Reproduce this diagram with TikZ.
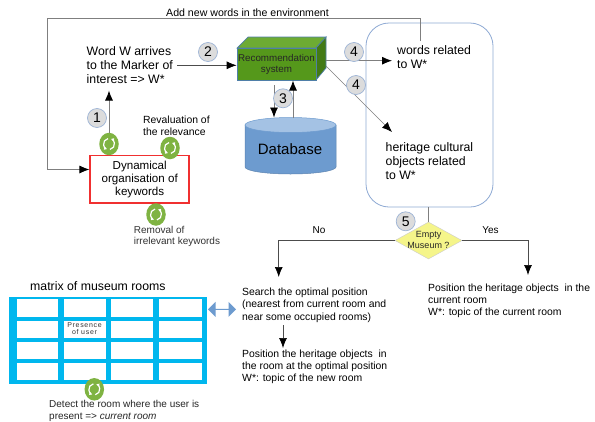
\documentclass[tikz,border=0pt]{standalone}
\usepackage{fontspec}
\setmainfont{Liberation Sans}
\usetikzlibrary{arrows.meta,shapes.geometric,shapes.arrows}
\definecolor{gline}{HTML}{7F7F7F}
\definecolor{cycg}{HTML}{7FB342}
\definecolor{numf}{HTML}{DCDCDC}
\definecolor{numb}{HTML}{9DB4D6}
\definecolor{boxb}{HTML}{8FAAD4}
\definecolor{roomc}{HTML}{00B7EE}
\definecolor{recf}{HTML}{55981B}
\definecolor{rect}{HTML}{6DAB33}
\definecolor{recs}{HTML}{437A15}
\definecolor{recl}{HTML}{4F7FA8}
\definecolor{dbf}{HTML}{6D9BCF}
\definecolor{dbt}{HTML}{A4C2E4}
\definecolor{decf}{HTML}{F5F58A}
\definecolor{redb}{HTML}{F03030}
\tikzset{
 big/.style={align=left,anchor=north west,inner sep=0pt,font=\fontsize{12.3}{14}\selectfont},
 mid/.style={align=left,anchor=north west,inner sep=0pt,font=\fontsize{10.4}{12.2}\selectfont},
 num/.style={circle,draw=numb,fill=numf,line width=0.7pt,minimum size=19pt,inner sep=0pt,font=\fontsize{14}{14}\selectfont},
 cyc/.style={ellipse,fill=cycg,minimum width=19.5pt,minimum height=22.5pt,inner sep=0pt,path picture={
   \draw[white,line width=1.2pt,-{Latex[length=3pt,width=3.5pt]}] (path picture bounding box.center)++(100:5.5pt) arc[start angle=100,end angle=250,radius=5.5pt];
   \draw[white,line width=1.2pt,-{Latex[length=3pt,width=3.5pt]}] (path picture bounding box.center)++(280:5.5pt) arc[start angle=280,end angle=430,radius=5.5pt];
 }},
 arr/.style={-{Latex[length=10pt,width=8pt,color=black]},draw=gline,line width=0.9pt},
 thinarr/.style={-{Latex[length=10pt,width=8pt,color=black]},draw=black!70,line width=0.7pt}
}
\begin{document}
\begin{tikzpicture}[x=1pt,y=-1pt]
\useasboundingbox (0,0) rectangle (595,421);
\fill[white] (0,0) rectangle (595,421);

\coordinate (wtop) at (420,18);
\coordinate (tl) at (47.5,18);
\coordinate (bl) at (47.5,169.5);
\coordinate (wstart) at (420,41);

% right box
\node[draw=boxb,line width=0.8pt,rounded corners=23pt,minimum width=127pt,minimum height=184pt,inner sep=0pt] (bigbox) at (429.5,115) {};

% keyword box and feedback loop
\node[draw=redb,line width=1.5pt,fill=white,minimum width=99pt,minimum height=47.5pt,inner sep=0pt,align=center,font=\fontsize{11.6}{13}\selectfont] (dyn) at (139.7,179.3) {Dynamical\\organisation of\\keywords};
\draw[arr] (wstart) -- (wtop) -- (tl) -- (bl) -- (dyn.west |- bl);
\node[anchor=base west,inner sep=0pt,font=\fontsize{10.6}{12}\selectfont] (addt) at (166,16.5) {Add new words in the environment};

% word W
\node[big] (word) at (86.5,46) {Word W arrives\\to the Marker of\\interest => W*};

% recommendation system
\filldraw[draw=recl,fill=rect,line width=0.7pt] (237,48) -- (248,37) -- (326,37) -- (316,48) -- cycle;
\filldraw[draw=recl,fill=recs,line width=0.7pt] (316,48) -- (326,37) -- (326,68) -- (316,80) -- cycle;
\node[draw=recl,fill=recf,line width=0.7pt,minimum width=79pt,minimum height=32pt,inner sep=0pt,align=center,font=\fontsize{9.8}{11}\selectfont,text=black!85] (rec) at (276.5,64) {Recommendation\\system};
\coordinate (recr) at (326,60.7);
\coordinate (recd) at (326,66);
\coordinate (wrt) at (392,60.7);
\coordinate (hot) at (392,132);

% database
\filldraw[draw=dbf!85!black,fill=dbf,line width=0.5pt] (245,125) -- (245,167) arc[x radius=45.5pt,y radius=7pt,start angle=180,end angle=360] -- (336,125) -- cycle;
\node[ellipse,draw=dbf,fill=dbt,line width=0.5pt,minimum width=91pt,minimum height=15pt,inner sep=0pt] (dbtop) at (290.5,125) {};
\node[font=\fontsize{15}{15}\selectfont,inner sep=0pt] (db) at (290,149.5) {Database};

% connectors
\node[cyc] (c1) at (109,144) {};
\node[cyc] (c2) at (170,148) {};
\node[cyc] (c3) at (156,214.5) {};
\coordinate (wb) at (109,90.5);
\draw[arr] (c1.north) -- (wb);
\coordinate (wr) at (177,65.3);
\draw[thinarr] (wr) -- (rec.west |- wr);
\coordinate (d1) at (274,85);
\coordinate (d2) at (274,117.5);
\coordinate (u1) at (293,118);
\draw[arr,line width=0.7pt] (d1) -- (d2);
\draw[arr] (u1) -- (293,80.5);
\draw[arr] (recr) -- (wrt);
\draw[arr,line width=0.6pt] (recd) -- (hot);

% numbers
\node[num] (n1) at (97,118) {1};
\node[num] (n2) at (208,52) {2};
\node[num] (n3) at (283,98.3) {3};
\node[num] (n4a) at (354,52) {4};
\node[num] (n4b) at (356,85) {4};

% right text
\node[big] (wrtxt) at (397,45.5) {words related\\to W*};
\node[big] (ho) at (385.5,142) {heritage cultural\\objects related\\to W*};

\node[mid] (reval) at (143,115.5) {Revaluation of\\the relevance};
\node[mid,text=black!80,font=\fontsize{10}{11.3}\selectfont] (remov) at (133.7,226) {Removal of\\irrelevant keywords};

% decision
\node[diamond,aspect=1.8,fill=decf,draw=black!20,line width=0.4pt,minimum width=67pt,minimum height=37pt,inner sep=0pt] (dec) at (428.5,240.5) {};
\node[align=center,inner sep=0pt,font=\fontsize{9}{10.5}\selectfont,text=black!85] (dect) at (428.5,240) {Empty\\Museum ?};
\draw[draw=gline,line width=0.8pt] (bigbox.south -| dec.north) -- (dec.north);
\node[num] (n5) at (405.7,221.3) {5};
\coordinate (noc) at (278.7,240.5);
\coordinate (yesc) at (528,240.5);
\node[font=\fontsize{10}{10}\selectfont,inner sep=0pt] (no) at (319,230) {No};
\node[font=\fontsize{10}{10}\selectfont,inner sep=0pt] (yes) at (490.5,230) {Yes};
\coordinate (noe) at (278.7,277);
\coordinate (yese) at (528,275);
\draw[thinarr] (dec.west) -- (noc) -- (noe);
\draw[thinarr] (dec.east) -- (yesc) -- (yese);

% bottom text
\node[mid] (search) at (242,288) {Search the optimal position\\(nearest from current room and\\near some occupied rooms)};
\node[mid] (posa) at (242,349.5) {Position the heritage objects\ \ in\\the room at the optimal position\\W*: topic of the new room};
\node[mid] (posb) at (428,283.5) {Position the heritage objects\ \ in the\\current room\\W*: topic of the current room};
\coordinate (sa) at (283,325);
\coordinate (sb) at (283,348);
\draw[thinarr] (sa) -- (sb);

% matrix
\node[big] (mt) at (30,281) {matrix of museum rooms};
\fill[roomc] (9.3,296.7) rectangle (207,384);
\foreach \xa/\xb in {16.7/57.5,64/106,111.3/153.3,159/201.7}{
 \fill[white] (\xa,299.3) rectangle (\xb,316.7);
 \fill[white] (\xa,321) rectangle (\xb,337.7);
 \fill[white] (\xa,341.7) rectangle (\xb,359);
 \fill[white] (\xa,363.3) rectangle (\xb,380.3);
}
\node[align=center,inner sep=0pt,font=\addfontfeature{LetterSpace=10}\fontsize{7}{7.6}\selectfont,text=black!80] (pres) at (84.5,328.5) {Presence\\of user};
\node[double arrow,double arrow head extend=3pt,fill=dbf,minimum width=15pt,minimum height=28pt,inner sep=0pt,double arrow tip angle=90] (dbl) at (222,309.3) {};
\node[cyc] (c4) at (94.3,389.3) {};
\node[mid,text=black!85,font=\fontsize{10}{11.3}\selectfont] (det) at (49,400.5) {Detect the room where the user is\\present => \textit{current room}};
\end{tikzpicture}
\end{document}
